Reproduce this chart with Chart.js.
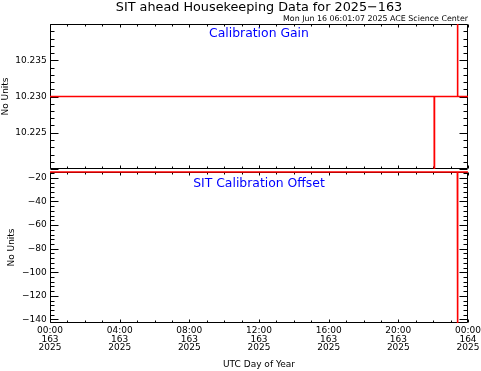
<!DOCTYPE html>
<html>
<head>
<meta charset="utf-8">
<title>SIT ahead Housekeeping Data for 2025-163</title>
<script src="https://cdn.jsdelivr.net/npm/chart.js@4/dist/chart.umd.min.js"></script>
<style>
body { margin: 0; background: #fff; }
#wrap { position: relative; width: 481px; height: 371px; font-family: "DejaVu Sans", sans-serif; }
#wrap canvas { position: absolute; left: 0; top: 0; }
.txt { position: absolute; white-space: nowrap; line-height: 1; }
.mid { transform: translateX(-50%); }
</style>
</head>
<body>
<div id="wrap">
  <canvas id="gainChart" width="481" height="371"></canvas>
  <canvas id="offsetChart" width="481" height="371"></canvas>
  <div class="txt mid" style="left:259px;top:1px;font-size:12.8px;">SIT ahead Housekeeping Data for 2025&minus;163</div>
  <div class="txt" style="right:13px;top:15px;font-size:7.9px;">Mon Jun 16 06:01:07 2025 ACE Science Center</div>
  <div class="txt mid" style="left:259px;top:27px;font-size:12.4px;color:#0000ff;">Calibration Gain</div>
  <div class="txt mid" style="left:259px;top:176.5px;font-size:12.4px;color:#0000ff;">SIT Calibration Offset</div>
</div>
<script>
// hours of day 163 (UTC)
var gainHours  = [0, 22.06, 22.07, 22.08, 23.39, 23.40, 23.41, 24];
var gainValues = [10.230, 10.230, 10.200, 10.230, 10.230, 10.260, 10.230, 10.230];

var offsetHours  = [0, 23.39, 23.40, 23.41, 24];
var offsetValues = [-15, -15, -143, -15, -15];

var xTickHours = [0, 4, 8, 12, 16, 20, 24];
var xTickTimes = ["00:00", "04:00", "08:00", "12:00", "16:00", "20:00", "00:00"];
var xTickDays  = ["163", "163", "163", "163", "163", "163", "164"];
var xTickYears = ["2025", "2025", "2025", "2025", "2025", "2025", "2025"];

var gainTicks   = [10.225, 10.230, 10.235];
var offsetTicks = [-140, -120, -100, -80, -60, -40, -20];

Chart.defaults.font.family = "'DejaVu Sans', sans-serif";
Chart.defaults.font.size = 9;
Chart.defaults.color = "#000";

function toPoints(xs, ys) {
    var pts = [];
    for (var i = 0; i < xs.length; i++) pts.push({x: xs[i], y: ys[i]});
    return pts;
}

// IDL style frame: box round the plot with inward ticks on all four sides
var frameTicks = {
    id: "frameTicks",
    beforeDatasetsDraw: function(chart, args, opts) {
        var ctx = chart.ctx, a = chart.chartArea;
        var xs = chart.scales.x, ys = chart.scales.y;
        var L = Math.round(a.left) + 0.5, R = Math.round(a.right) - 0.5;
        var T = Math.round(a.top) + 0.5, B = Math.round(a.bottom) - 0.5;
        ctx.save();
        ctx.strokeStyle = "#000";
        ctx.lineWidth = 1;
        ctx.beginPath();
        ctx.rect(L, T, R - L, B - T);

        var n0 = Math.ceil(ys.min / opts.yMinor - 1e-6), n1 = Math.floor(ys.max / opts.yMinor + 1e-6);
        for (var n = n0; n <= n1; n++) {
            var v = n * opts.yMinor;
            var r = v / opts.yMajor;
            var len = Math.abs(r - Math.round(r)) < 1e-6 ? 8 : 4;
            var py = Math.round(ys.getPixelForValue(v)) + 0.5;
            ctx.moveTo(L, py); ctx.lineTo(L + len, py);
            ctx.moveTo(R, py); ctx.lineTo(R - len, py);
        }
        for (var h = xs.min; h <= xs.max; h += opts.xMinor) {
            var xl = h % opts.xMajor === 0 ? 3 : 2;
            var px = Math.round(xs.getPixelForValue(h)) + 0.5;
            ctx.moveTo(px, T); ctx.lineTo(px, T + xl);
            ctx.moveTo(px, B); ctx.lineTo(px, B - xl);
        }
        ctx.stroke();
        ctx.restore();
    }
};

var gainChart = new Chart(document.getElementById("gainChart"), {
    type: "line",
    data: {
        datasets: [{
            data: toPoints(gainHours, gainValues),
            borderColor: "#ff0000",
            borderWidth: 1.6,
            pointRadius: 0,
            tension: 0,
            clip: 0
        }]
    },
    options: {
        responsive: false,
        animation: false,
        events: [],
        layout: {padding: {left: 0, top: 24, right: 13, bottom: 202}},
        plugins: {
            legend: {display: false},
            tooltip: {enabled: false},
            frameTicks: {yMajor: 0.005, yMinor: 0.001, xMajor: 4, xMinor: 1}
        },
        scales: {
            x: {type: "linear", min: 0, max: 24, display: false},
            y: {
                min: 10.220, max: 10.240,
                afterBuildTicks: function(s) { s.ticks = gainTicks.map(function(v) { return {value: v}; }); },
                ticks: {padding: 3.3, callback: function(v) { return v.toFixed(3); }},
                grid: {display: false, drawTicks: false},
                border: {display: false},
                title: {display: true, text: "No Units", padding: {top: 0, bottom: 0}},
                afterFit: function(s) { s.width = 50; }
            }
        }
    },
    plugins: [frameTicks]
});

var offsetChart = new Chart(document.getElementById("offsetChart"), {
    type: "line",
    data: {
        datasets: [{
            data: toPoints(offsetHours, offsetValues),
            borderColor: "#ff0000",
            borderWidth: 1.6,
            pointRadius: 0,
            tension: 0,
            clip: 1
        }]
    },
    options: {
        responsive: false,
        animation: false,
        events: [],
        layout: {padding: {left: 6.3, top: 172, right: 13, bottom: 0}},
        plugins: {
            legend: {display: false},
            tooltip: {enabled: false},
            frameTicks: {yMajor: 20, yMinor: 4, xMajor: 4, xMinor: 1}
        },
        scales: {
            x: {
                type: "linear", min: 0, max: 24,
                afterBuildTicks: function(s) { s.ticks = xTickHours.map(function(v) { return {value: v}; }); },
                ticks: {
                    autoSkip: false, maxRotation: 0, padding: 3.4,
                    font: {size: 9, lineHeight: 0.95},
                    callback: function(v, i) { return [xTickTimes[i], xTickDays[i], xTickYears[i]]; }
                },
                grid: {display: false, drawTicks: false},
                border: {display: false},
                title: {display: true, text: "UTC Day of Year", padding: {top: 0, bottom: 0.6}},
                afterFit: function(s) { s.height = 48; s.paddingLeft = 0; s.paddingRight = 0; }
            },
            y: {
                min: -143, max: -15,
                afterBuildTicks: function(s) { s.ticks = offsetTicks.map(function(v) { return {value: v}; }); },
                ticks: {padding: 3.3, callback: function(v) { return String(v).replace("-", "\u2212"); }},
                grid: {display: false, drawTicks: false},
                border: {display: false},
                title: {display: true, text: "No Units", padding: {top: 0, bottom: 0}},
                afterFit: function(s) { s.width = 50 - 6.3; s.paddingTop = 0; s.paddingBottom = 0; }
            }
        }
    },
    plugins: [frameTicks]
});
</script>
</body>
</html>
